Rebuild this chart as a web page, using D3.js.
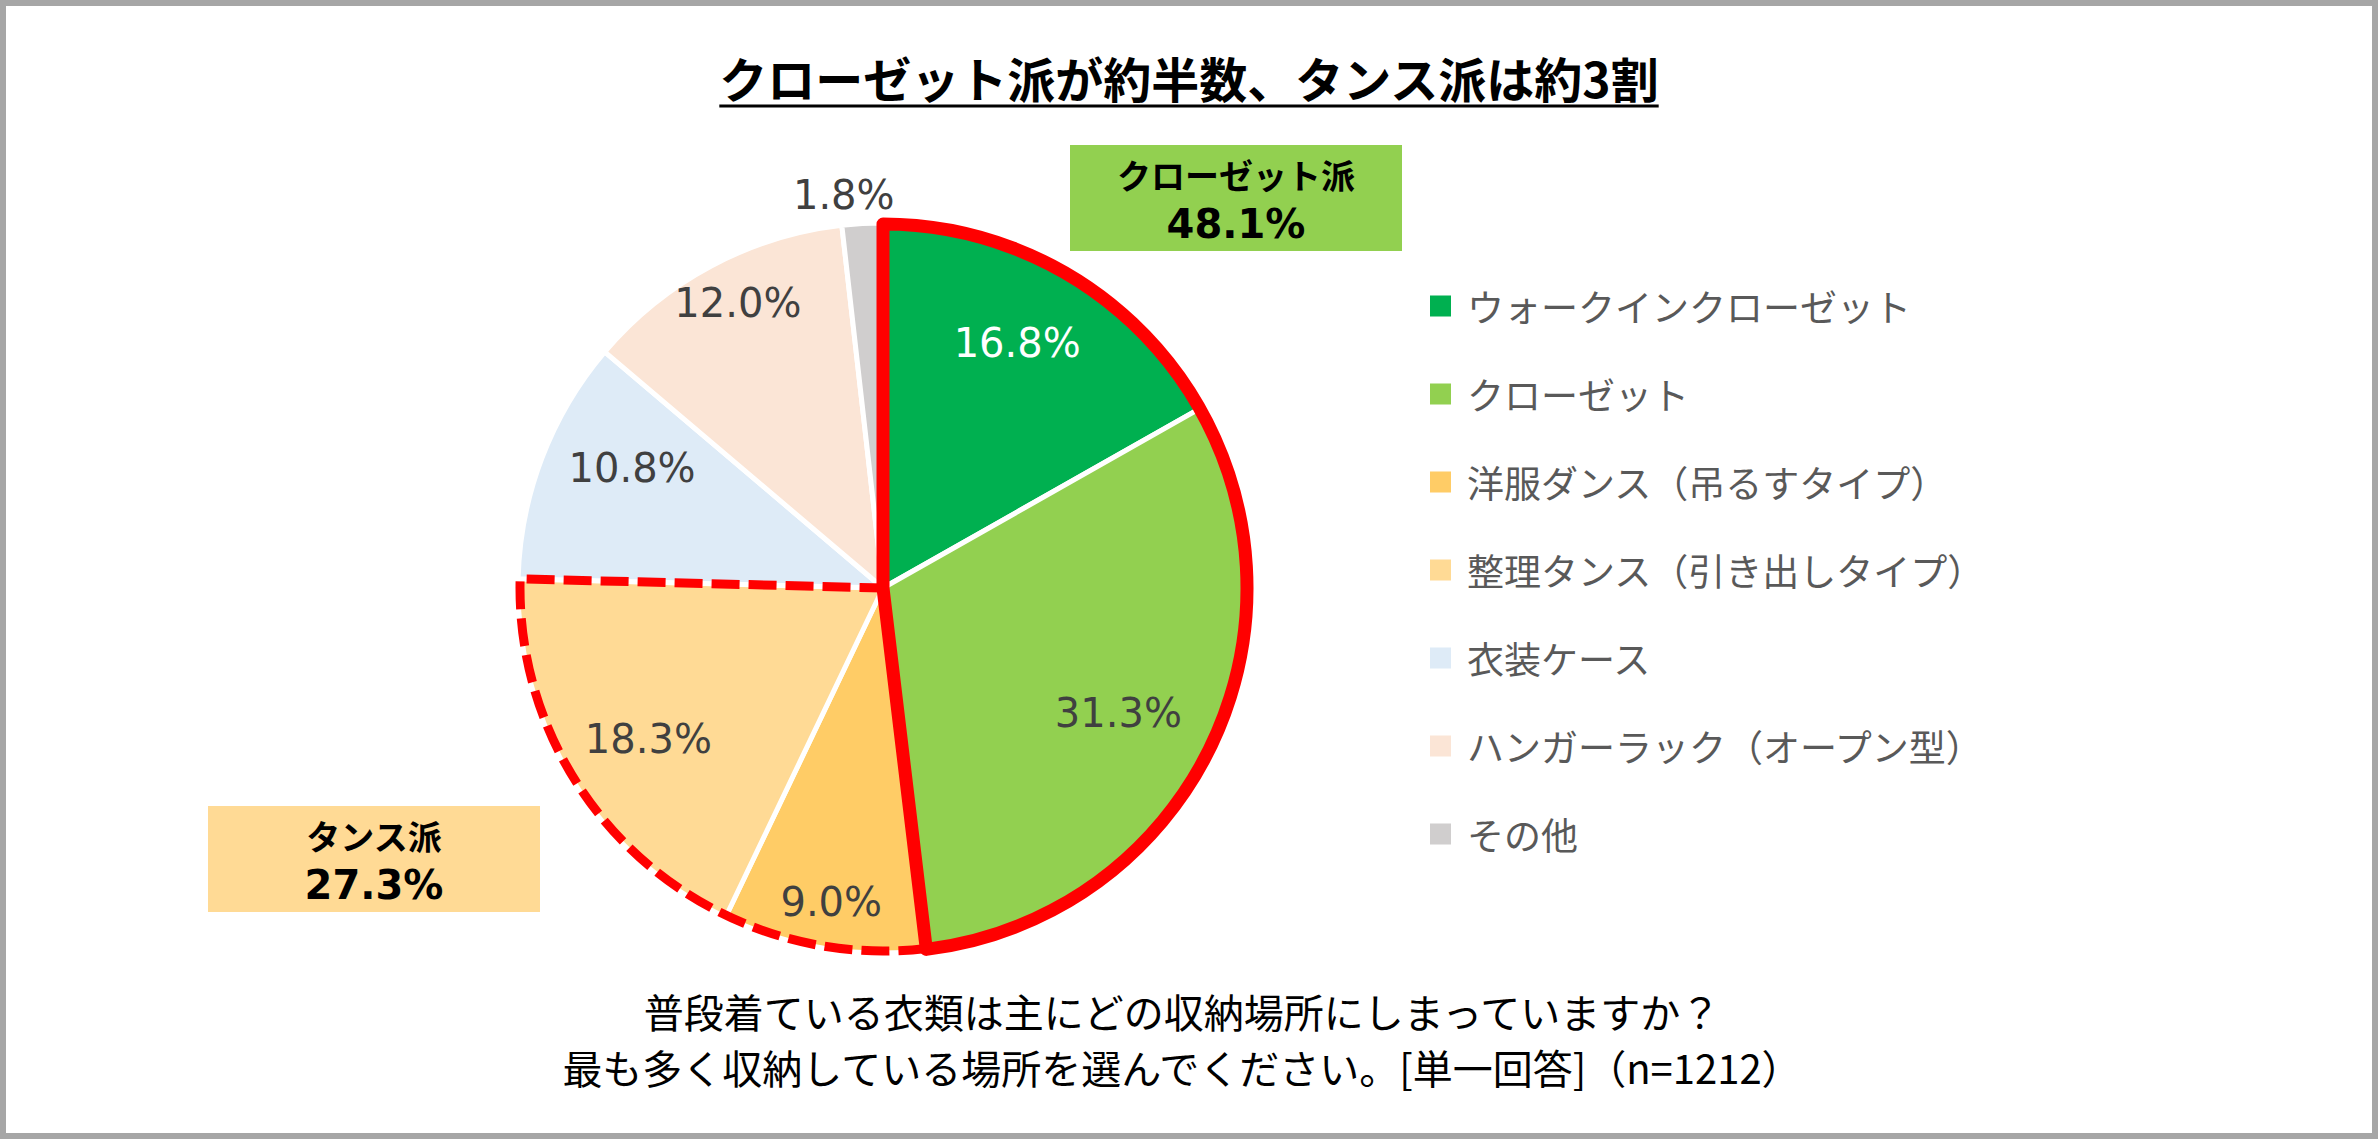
<!DOCTYPE html>
<html>
<head>
<meta charset="utf-8">
<script src="https://cdn.jsdelivr.net/npm/d3@7"></script>
<style>
    body { margin: 0; background: #fff; }
    svg { display: block; }
</style>
</head>
<body>
<div id="chart"></div>
<script>
// data
const categories = [
    "ウォークインクローゼット",
    "クローゼット",
    "洋服ダンス（吊るすタイプ）",
    "整理タンス（引き出しタイプ）",
    "衣装ケース",
    "ハンガーラック（オープン型）",
    "その他"
];
const values = [16.8, 31.3, 9.0, 18.3, 10.8, 12.0, 1.8];
const groupNames = ["クローゼット派", "タンス派"];
const groupValues = [48.1, 27.3];
const groupMembers = [[0, 1], [2, 3]];
const titleText = "クローゼット派が約半数、タンス派は約3割";
const questionLines = [
    "普段着ている衣類は主にどの収納場所にしまっていますか？",
    "最も多く収納している場所を選んでください。[単一回答]（n=1212）"
];

// styles
const colors = ["#00B050", "#92D050", "#FFCC66", "#FFDA95", "#DEEBF7", "#FBE5D6", "#D0CECE"];
const labelColors = ["#fff", "#404040", "#404040", "#404040", "#404040", "#404040", "#404040"];
// label placement: radius factor and position along the slice (Excel best fit look)
const labelR = [0.765, 0.73, 0.872, 0.765, 0.762, 0.876, 1.082];
const labelT = [0.475, 0.51, 0.5, 0.48, 0.62, 0.525, 0.12];

const W = 2378, H = 1139;
const cx = 883, cy = 588, r = 365;
const fmt = d3.format(".1f");
const jp = "'Noto Sans CJK JP', 'Noto Sans', sans-serif";
const num = "'DejaVu Sans', 'Noto Sans CJK JP', sans-serif";

const svg = d3.select("#chart").append("svg")
    .attr("width", W)
    .attr("height", H);

svg.append("rect")
    .attr("x", 3).attr("y", 3)
    .attr("width", W - 6).attr("height", H - 6)
    .attr("fill", "#fff")
    .attr("stroke", "#A6A6A6")
    .attr("stroke-width", 6);

// title with underline
const title = svg.append("text")
    .attr("x", 1189)
    .attr("y", 77)
    .attr("text-anchor", "middle")
    .attr("dominant-baseline", "central")
    .style("font-family", jp)
    .style("font-weight", 700)
    .style("font-size", "48px")
    .style("fill", "#000")
    .text(titleText);
const tb = title.node().getBBox();
svg.append("line")
    .attr("x1", tb.x).attr("x2", tb.x + tb.width)
    .attr("y1", 106).attr("y2", 106)
    .attr("stroke", "#000")
    .attr("stroke-width", 3);

// pie
const pie = d3.pie().sort(null).value(d => d);
const arcs = pie(values);
const arc = d3.arc().innerRadius(0).outerRadius(r);

const g = svg.append("g").attr("transform", `translate(${cx},${cy})`);

g.selectAll(".slice")
    .data(arcs)
    .enter()
    .append("path")
    .attr("class", "slice")
    .attr("d", arc)
    .attr("fill", (d, i) => colors[i])
    .attr("stroke", "#fff")
    .attr("stroke-width", 5)
    .attr("stroke-linejoin", "round");

// group outlines: dashed for タンス派, solid for クローゼット派
const groupArc = (members, rr) => d3.arc()
    .innerRadius(0).outerRadius(rr)
    .startAngle(arcs[members[0]].startAngle)
    .endAngle(arcs[members[members.length - 1]].endAngle)();

g.append("path")
    .attr("d", groupArc(groupMembers[1], r - 2))
    .attr("fill", "none")
    .attr("stroke", "#FF0000")
    .attr("stroke-width", 9)
    .attr("stroke-dasharray", "28,9");

g.append("path")
    .attr("d", groupArc(groupMembers[0], r - 1))
    .attr("fill", "none")
    .attr("stroke", "#FF0000")
    .attr("stroke-width", 13)
    .attr("stroke-linejoin", "round");

// data labels
g.selectAll(".label")
    .data(arcs)
    .enter()
    .append("text")
    .attr("class", "label")
    .attr("x", (d, i) => {
        const a = d.startAngle + labelT[i] * (d.endAngle - d.startAngle);
        return Math.sin(a) * r * labelR[i];
    })
    .attr("y", (d, i) => {
        const a = d.startAngle + labelT[i] * (d.endAngle - d.startAngle);
        return -Math.cos(a) * r * labelR[i];
    })
    .attr("text-anchor", "middle")
    .attr("dominant-baseline", "central")
    .style("font-family", num)
    .style("font-size", "40px")
    .style("fill", (d, i) => labelColors[i])
    .text(d => fmt(d.data) + "%");

// group callout boxes
const boxes = [
    { x: 1070, y: 145, fill: "#92D050" },
    { x: 208, y: 806, fill: "#FFDA95" }
];
const boxW = 332, boxH = 106;
boxes.forEach((b, i) => {
    svg.append("rect")
        .attr("x", b.x).attr("y", b.y)
        .attr("width", boxW).attr("height", boxH)
        .attr("fill", b.fill);
    svg.append("text")
        .attr("x", b.x + boxW / 2)
        .attr("y", b.y + 29)
        .attr("text-anchor", "middle")
        .attr("dominant-baseline", "central")
        .style("font-family", jp)
        .style("font-weight", 700)
        .style("font-size", "34px")
        .style("fill", "#000")
        .text(groupNames[i]);
    svg.append("text")
        .attr("x", b.x + boxW / 2)
        .attr("y", b.y + 79)
        .attr("text-anchor", "middle")
        .attr("dominant-baseline", "central")
        .style("font-family", num)
        .style("font-weight", 700)
        .style("font-size", "40px")
        .style("fill", "#000")
        .text(fmt(groupValues[i]) + "%");
});

// legend
const legendY = d3.scalePoint()
    .domain(categories)
    .range([306, 834]);

const legend = svg.append("g").attr("class", "legend");
const items = legend.selectAll(".item")
    .data(categories)
    .enter()
    .append("g")
    .attr("class", "item")
    .attr("transform", d => `translate(1430,${legendY(d)})`);

items.append("rect")
    .attr("x", 0).attr("y", -10.5)
    .attr("width", 21).attr("height", 21)
    .attr("fill", (d, i) => colors[i]);

items.append("text")
    .attr("x", 37)
    .attr("y", 0)
    .attr("dominant-baseline", "central")
    .style("font-family", jp)
    .style("font-size", "37px")
    .style("fill", "#595959")
    .text(d => d);

// question text
svg.selectAll(".question")
    .data(questionLines)
    .enter()
    .append("text")
    .attr("class", "question")
    .attr("x", 1182)
    .attr("y", (d, i) => 1011 + i * 56)
    .attr("text-anchor", "middle")
    .attr("dominant-baseline", "central")
    .style("font-family", jp)
    .style("font-size", "40px")
    .style("fill", "#000")
    .text(d => d);
</script>
</body>
</html>
